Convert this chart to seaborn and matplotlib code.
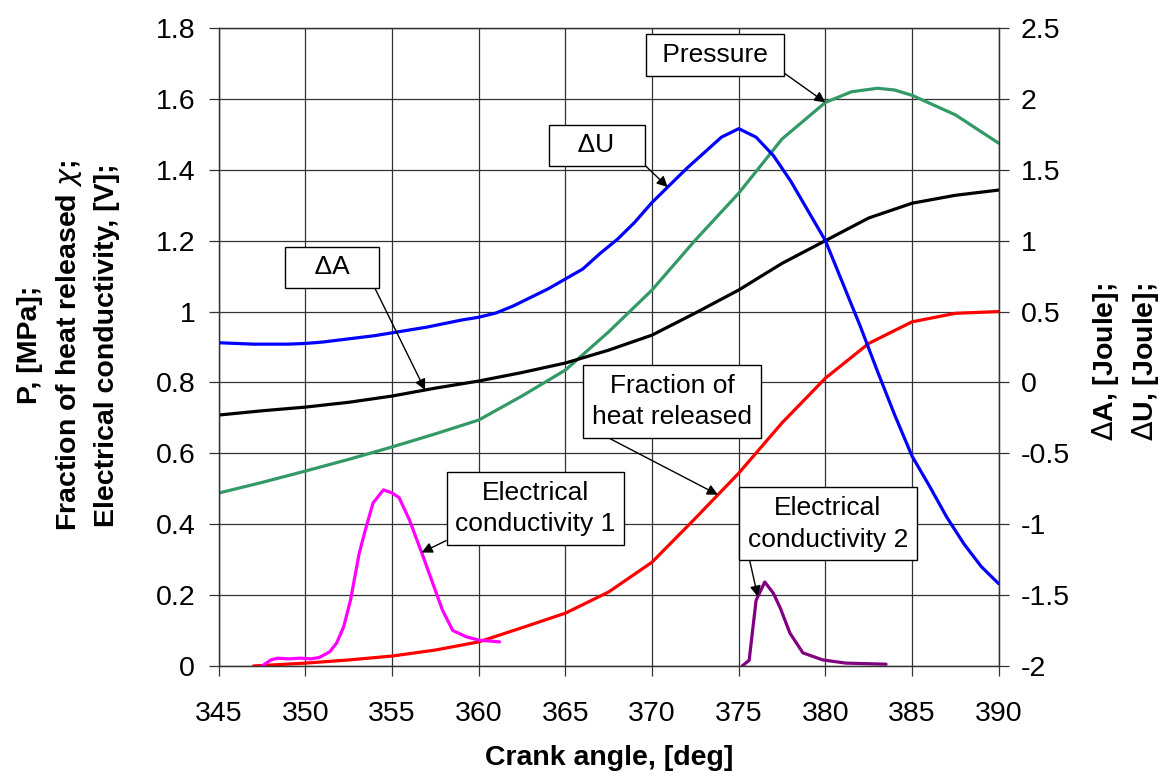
import numpy as np
import matplotlib
matplotlib.use("Agg")
import matplotlib.pyplot as plt
import seaborn as sns

# --- data ---
# Delta U [Joule] (right axis)
du_ang = [345, 346, 347, 348, 349, 350, 351, 352, 353, 354, 355, 356, 357, 358, 359,
          360, 361, 362, 363, 364, 365, 366, 367, 368, 369, 370, 371, 372, 373, 374,
          375, 376, 377, 378, 379, 380, 381, 382, 383, 384, 385, 386, 387, 388, 389, 390]
du_val = [0.28, 0.275, 0.27, 0.27, 0.27, 0.275, 0.285, 0.30, 0.315, 0.33, 0.35, 0.37,
          0.39, 0.415, 0.44, 0.46, 0.49, 0.54, 0.60, 0.66, 0.73, 0.80, 0.91, 1.01, 1.13,
          1.27, 1.39, 1.51, 1.62, 1.73, 1.79, 1.73, 1.60, 1.42, 1.21, 1.00, 0.70, 0.40,
          0.08, -0.23, -0.52, -0.73, -0.95, -1.14, -1.30, -1.42]

# Delta A [Joule] (right axis)
da_ang = [345, 347.5, 350, 352.5, 355, 357.5, 360, 362.5, 365, 367.5, 370, 372.5,
          375, 377.5, 380, 382.5, 385, 387.5, 390]
da_val = [-0.23, -0.20, -0.174, -0.14, -0.096, -0.04, 0.01, 0.07, 0.137, 0.228, 0.334,
          0.49, 0.652, 0.84, 1.00, 1.16, 1.264, 1.32, 1.357]

# Pressure [MPa] (left axis)
p_ang = [345, 347.5, 350, 352.5, 355, 357.5, 360, 362.5, 365, 367.5, 370, 372.5, 375,
         377.5, 380, 381.5, 383, 384, 385, 387.5, 390]
p_val = [0.488, 0.518, 0.55, 0.583, 0.618, 0.655, 0.694, 0.762, 0.835, 0.943, 1.061,
         1.202, 1.334, 1.487, 1.59, 1.62, 1.63, 1.625, 1.61, 1.555, 1.475]

# Fraction of heat released (left axis)
x_ang = [347, 350, 352.5, 355, 357.5, 360, 362.5, 365, 367.5, 370, 372.5, 375, 377.5,
         380, 382.5, 385, 387.5, 390]
x_val = [0.0, 0.008, 0.017, 0.028, 0.045, 0.068, 0.108, 0.149, 0.209, 0.293, 0.417,
         0.544, 0.686, 0.812, 0.91, 0.971, 0.995, 1.0]

# Electrical conductivity 1 [V] (left axis)
ec1_ang = [347.5, 348.0, 348.4, 349.0, 349.7, 350.3, 350.8, 351.4, 351.8, 352.2, 352.6,
           353.1, 353.5, 353.9, 354.5, 355.0, 355.4, 356.0, 356.8, 357.9, 358.5, 359.3,
           360.0, 361.2]
ec1_val = [0.0, 0.017, 0.022, 0.02, 0.022, 0.02, 0.024, 0.04, 0.065, 0.11, 0.186,
           0.318, 0.392, 0.46, 0.497, 0.488, 0.475, 0.412, 0.307, 0.158, 0.10, 0.082,
           0.073, 0.068]

# Electrical conductivity 2 [V] (left axis)
ec2_ang = [375.2, 375.6, 376.0, 376.5, 377.0, 377.4, 377.95, 378.7, 379.85, 381.2, 383.5]
ec2_val = [0.0, 0.016, 0.185, 0.237, 0.205, 0.163, 0.093, 0.037, 0.017, 0.008, 0.005]

# --- style ---
sns.set_theme(style="white")
plt.rcParams['font.family'] = ['Liberation Sans', 'DejaVu Sans']
plt.rcParams['axes.unicode_minus'] = False
plt.rcParams['text.color'] = 'black'
plt.rcParams['axes.labelcolor'] = 'black'

grid_c = '0.2'
fs_tick = 20.5
fs_lab = 20.5
fs_box = 19

fig = plt.figure(figsize=(11.64, 7.78), dpi=100)
ax = fig.add_axes([0.188, 0.144, 0.670, 0.820])
ax2 = ax.twinx()

lw = 2.3
sns.lineplot(x=p_ang, y=p_val, ax=ax, color='#339966', lw=lw)
sns.lineplot(x=x_ang, y=x_val, ax=ax, color='#FF0000', lw=lw)
sns.lineplot(x=ec1_ang, y=ec1_val, ax=ax, color='#FF00FF', lw=lw)
sns.lineplot(x=ec2_ang, y=ec2_val, ax=ax, color='#800080', lw=lw)
sns.lineplot(x=da_ang, y=da_val, ax=ax2, color='black', lw=lw)
sns.lineplot(x=du_ang, y=du_val, ax=ax2, color='#0000FF', lw=lw)

ax.set_xlim(345, 390)
ax.set_ylim(0, 1.8)
ax2.set_ylim(-2, 2.5)
ax.set_xticks(np.arange(345, 391, 5))
left_ticks = np.round(np.arange(0, 1.81, 0.2), 1)
right_ticks = np.arange(-2, 2.51, 0.5)
ax.set_yticks(left_ticks)
ax2.set_yticks(right_ticks)
ax.set_yticklabels([f"{v:g}" for v in left_ticks])
ax2.set_yticklabels([f"{v:g}" for v in right_ticks])

ax.grid(True, color=grid_c, lw=0.9)
ax2.grid(False)
for a in (ax, ax2):
    for s in a.spines.values():
        s.set_color(grid_c)
        s.set_linewidth(0.9)

ax.tick_params(axis='both', which='both', bottom=True, left=True, direction='out',
               length=7, width=0.9, color=grid_c, labelsize=fs_tick, labelcolor='black')
ax.tick_params(axis='x', pad=18)
ax.tick_params(axis='y', pad=10)
ax2.tick_params(axis='y', right=True, direction='out', length=7, width=0.9,
                color=grid_c, labelsize=fs_tick, labelcolor='black', pad=9)

ax.set_xlabel('Crank angle, [deg]', fontsize=fs_lab, fontweight='bold')
ax.xaxis.set_label_coords(0.5, -0.124)
ax.set_ylabel('P, [MPa];\nFraction of heat released $\\chi$;\nElectrical conductivity, [V];',
              fontsize=fs_lab, fontweight='bold', linespacing=1.5)
ax.yaxis.set_label_coords(-0.127, 0.503)
ax2.set_ylabel('$\\Delta$A, [Joule];\n$\\Delta$U, [Joule];', fontsize=fs_lab,
               fontweight='bold', rotation=90, linespacing=1.4)
ax2.yaxis.set_label_position('right')
ax2.yaxis.set_label_coords(1.117, 0.4765)


# --- callouts ---
def callout(text, fx, fy, ang, xs, ys, trans, corner):
    ax2.annotate(text, xy=(ang, np.interp(ang, xs, ys)), xycoords=trans,
                 xytext=(fx, fy), textcoords=ax2.transAxes,
                 ha='center', va='center', fontsize=fs_box, linespacing=1.4,
                 bbox=dict(boxstyle='square,pad=0.33', fc='white', ec='black', lw=1),
                 arrowprops=dict(arrowstyle='-|>', color='black', lw=1, relpos=corner,
                                 shrinkA=0, shrinkB=0, mutation_scale=16))


callout(' Pressure ', 0.6365, 0.958, 380, p_ang, p_val, ax.transData, (1, 0))
callout('   ΔU   ', 0.485, 0.816, 370.9, du_ang, du_val, ax2.transData, (1, 0))
callout('   ΔA   ', 0.1455, 0.625, 356.9, da_ang, da_val, ax2.transData, (1, 0))
callout('Fraction of\nheat released', 0.581, 0.4146, 373.8, x_ang, x_val,
        ax.transData, (0, 0))
callout('Electrical\nconductivity 1', 0.406, 0.247, 356.7, ec1_ang, ec1_val,
        ax.transData, (0, 0))
callout('Electrical\nconductivity 2', 0.781, 0.2226, 376.1, ec2_ang, ec2_val,
        ax.transData, (0, 0))

plt.savefig('out.png', dpi=100)
